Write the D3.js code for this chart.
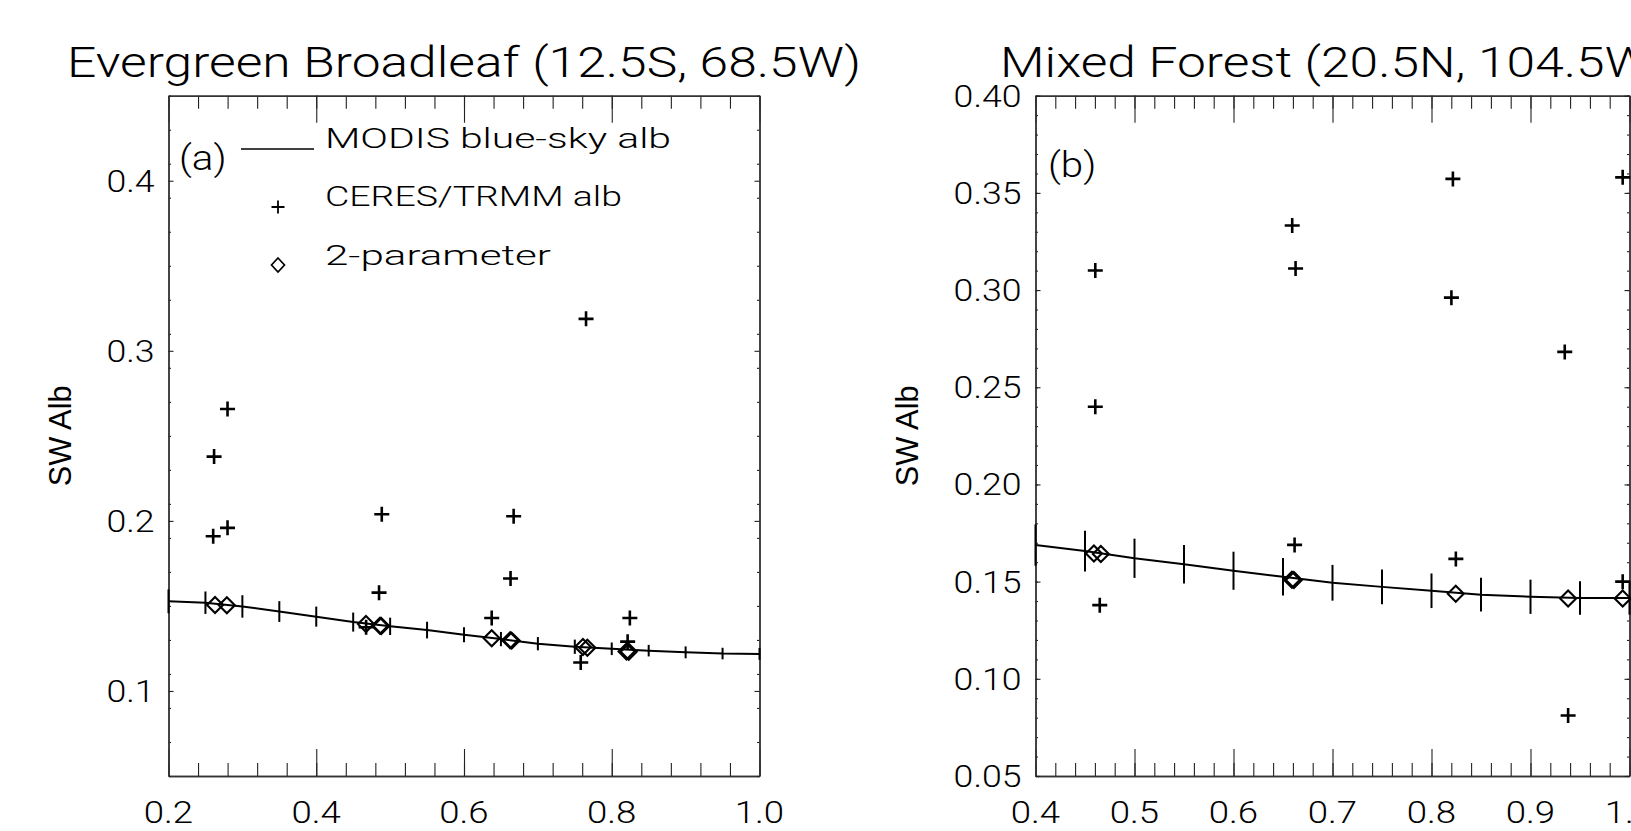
<!DOCTYPE html>
<html>
<head>
<meta charset="utf-8">
<script src="https://cdn.jsdelivr.net/npm/d3@7/dist/d3.min.js"></script>
<style>
body { margin: 0; background: #fff; }
svg { display: block; }
text { font-family: Roboto, "DejaVu Sans", sans-serif; font-weight: 300; fill: #000; }
text.ylab { font-family: "Liberation Sans", Arial, sans-serif; font-weight: 400; }
</style>
</head>
<body>
<svg id="chart" width="1631" height="831"></svg>
<script>
// Panel (a) - Evergreen Broadleaf (12.5S, 68.5W)
var xTicksA = [0.2, 0.4, 0.6, 0.8, 1.0];
var yTicksA = [0.1, 0.2, 0.3, 0.4];
var szaA   = [0.20, 0.25, 0.30, 0.35, 0.40, 0.45, 0.50, 0.55, 0.60, 0.65, 0.70, 0.75, 0.80, 0.85, 0.90, 0.95, 1.00];
var modisA = [0.1527, 0.1519, 0.1497, 0.1467, 0.1437, 0.1405, 0.1380, 0.1358, 0.1330, 0.1305, 0.1278, 0.1260, 0.1248, 0.1237, 0.1227, 0.1220, 0.1218];
var errA   = [0.0070, 0.0066, 0.0066, 0.0061, 0.0059, 0.0056, 0.0051, 0.0049, 0.0044, 0.0042, 0.0039, 0.0042, 0.0037, 0.0034, 0.0035, 0.0034, 0.0035];
var ceresXA = [0.2617, 0.2605, 0.2799, 0.2799, 0.4887, 0.4850, 0.4675, 0.6672, 0.6630, 0.6375, 0.7652, 0.7580, 0.8245, 0.8215];
var ceresYA = [0.2378, 0.1910, 0.2658, 0.1959, 0.2039, 0.1578, 0.1375, 0.2027, 0.1661, 0.1429, 0.3188, 0.1167, 0.1429, 0.1290];
var paramXA = [0.263, 0.279, 0.4673, 0.4863, 0.4880, 0.6375, 0.6625, 0.6645, 0.761, 0.767, 0.820, 0.823];
var paramYA = [0.1506, 0.1504, 0.1394, 0.1384, 0.1382, 0.1310, 0.1298, 0.1296, 0.1258, 0.1254, 0.1232, 0.1230];

// Panel (b) - Mixed Forest (20.5N, 104.5W)
var xTicksB = [0.4, 0.5, 0.6, 0.7, 0.8, 0.9, 1.0];
var yTicksB = [0.05, 0.10, 0.15, 0.20, 0.25, 0.30, 0.35, 0.40];
var szaB   = [0.40, 0.45, 0.50, 0.55, 0.60, 0.65, 0.70, 0.75, 0.80, 0.85, 0.90, 0.95, 1.00];
var modisB = [0.1688, 0.1657, 0.1620, 0.1589, 0.1556, 0.1525, 0.1494, 0.1473, 0.1453, 0.1433, 0.1422, 0.1416, 0.1416];
var errB   = [0.0106, 0.0105, 0.0101, 0.0099, 0.0098, 0.0097, 0.0092, 0.0090, 0.0089, 0.0087, 0.0088, 0.0086, 0.0086];
var ceresXB = [0.4604, 0.4604, 0.4649, 0.6593, 0.6627, 0.6617, 0.8216, 0.8201, 0.8246, 0.9346, 0.9380, 0.9931, 0.9931];
var ceresYB = [0.3101, 0.2400, 0.1379, 0.3332, 0.3111, 0.1689, 0.3572, 0.2961, 0.1617, 0.2682, 0.0811, 0.3580, 0.1500];
var paramXB = [0.459, 0.466, 0.659, 0.661, 0.8245, 0.938, 0.9931];
var paramYB = [0.1645, 0.1642, 0.1510, 0.1508, 0.1438, 0.1413, 0.1413];

var svg = d3.select("#chart");
var TOP = 95.7, BOTTOM = 776;
var plusPath = "M-7.5,0H7.5M0,-7.5V7.5";
var diamondPath = "M0,-8L8,0L0,8L-8,0Z";

// stretch a text horizontally by a factor (the vector font is wider)
function stretch(sel, f) {
	sel.each(function () {
		var w = this.getComputedTextLength();
		d3.select(this).attr("textLength", w * f).attr("lengthAdjust", "spacingAndGlyphs");
	});
}

function tickRow(g, axisFn, scale, vals, size, tr) {
	g.append("g").attr("transform", tr)
		.call(axisFn(scale).tickValues(vals).tickSize(-size).tickSizeOuter(0).tickFormat(""))
		.call(function (a) {
			a.selectAll("line").attr("stroke", "#222").attr("stroke-width", 1.1);
			a.selectAll("path").attr("stroke", "#333").attr("stroke-width", 1.4);
		});
}

function panel(p) {
	var g = svg.append("g");
	var x = d3.scaleLinear().domain(p.xDomain).range([p.left, p.right]);
	var y = d3.scaleLinear().domain(p.yDomain).range([BOTTOM, TOP]);

	// axes: x ticks long, y ticks short, all pointing in
	var xMinor = d3.range(0, Math.round((p.xDomain[1] - p.xDomain[0]) / p.xMinor) + 1).map(function (i) { return p.xDomain[0] + i * p.xMinor; });
	var yMinor = d3.range(0, Math.round((p.yDomain[1] - p.yDomain[0]) / p.yMinor) + 1).map(function (i) { return p.yDomain[0] + i * p.yMinor; });
	tickRow(g, d3.axisBottom, x, xMinor, 13, "translate(0," + BOTTOM + ")");
	tickRow(g, d3.axisBottom, x, p.xTicks, 27, "translate(0," + BOTTOM + ")");
	tickRow(g, d3.axisTop, x, xMinor, 13, "translate(0," + TOP + ")");
	tickRow(g, d3.axisTop, x, p.xTicks, 27, "translate(0," + TOP + ")");
	tickRow(g, d3.axisLeft, y, yMinor, 2.5, "translate(" + p.left + ",0)");
	tickRow(g, d3.axisLeft, y, p.yTicks, 5, "translate(" + p.left + ",0)");
	tickRow(g, d3.axisRight, y, yMinor, 2.5, "translate(" + p.right + ",0)");
	tickRow(g, d3.axisRight, y, p.yTicks, 5, "translate(" + p.right + ",0)");

	// tick labels
	g.selectAll("text.xt").data(p.xTicks).enter().append("text")
		.attr("class", "xt")
		.attr("x", function (d) { return x(d); })
		.attr("y", 823)
		.attr("text-anchor", "middle")
		.style("font-size", "31px")
		.text(d3.format(".1f"))
		.call(stretch, 1.18);
	g.selectAll("text.yt").data(p.yTicks).enter().append("text")
		.attr("class", "yt")
		.attr("x", p.left - 14)
		.attr("y", function (d) { return y(d) + 11; })
		.attr("text-anchor", "end")
		.style("font-size", "31px")
		.text(d3.format(p.yFmt))
		.call(stretch, 1.15);

	// title
	svg.append("text")
		.attr("x", p.titleX)
		.attr("y", 77)
		.style("font-size", "42px")
		.text(p.title)
		.call(stretch, p.titleStretch);

	// y label
	svg.append("text")
		.attr("class", "ylab")
		.attr("transform", "translate(" + p.ylabX + "," + ((TOP + BOTTOM) / 2) + ") rotate(-90)")
		.attr("text-anchor", "middle")
		.style("font-size", "31px")
		.attr("textLength", 101)
		.attr("lengthAdjust", "spacingAndGlyphs")
		.text("SW Alb");

	// panel letter
	svg.append("text")
		.attr("x", p.letterX)
		.attr("y", p.letterY)
		.style("font-size", "35px")
		.text(p.letter)
		.call(stretch, 1.15);

	// MODIS line with bars
	var line = d3.line()
		.x(function (d) { return x(d[0]); })
		.y(function (d) { return y(d[1]); });
	var pts = d3.zip(p.sza, p.modis, p.err);
	g.append("path").datum(pts)
		.attr("d", line)
		.attr("fill", "none")
		.attr("stroke", "#000")
		.attr("stroke-width", 2);
	g.selectAll("line.bar").data(pts).enter().append("line")
		.attr("class", "bar")
		.attr("x1", function (d) { return x(d[0]); })
		.attr("x2", function (d) { return x(d[0]); })
		.attr("y1", function (d) { return y(d[1] - d[2]); })
		.attr("y2", function (d) { return y(d[1] + d[2]); })
		.attr("stroke", "#000")
		.attr("stroke-width", 2);

	// CERES pluses
	g.selectAll("path.plus").data(d3.zip(p.cx, p.cy)).enter().append("path")
		.attr("class", "plus")
		.attr("d", plusPath)
		.attr("transform", function (d) { return "translate(" + x(d[0]) + "," + y(d[1]) + ")"; })
		.attr("stroke", "#000")
		.attr("stroke-width", 2.6);

	// 2-parameter diamonds
	g.selectAll("path.dia").data(d3.zip(p.px, p.py)).enter().append("path")
		.attr("class", "dia")
		.attr("d", diamondPath)
		.attr("transform", function (d) { return "translate(" + x(d[0]) + "," + y(d[1]) + ")"; })
		.attr("fill", "none")
		.attr("stroke", "#000")
		.attr("stroke-width", 2.1);
}

// title (a) spans 67..861; title (b) uses the same stretch
var probe = svg.append("text").style("font-size", "42px").text("Evergreen Broadleaf (12.5S, 68.5W)");
var titleStretch = 794 / probe.node().getComputedTextLength();
probe.remove();

panel({
	xDomain: [0.2, 1.0], yDomain: [0.05, 0.45], left: 168.5, right: 759.5,
	xTicks: xTicksA, yTicks: yTicksA, xMinor: 0.04, yMinor: 0.02, yFmt: ".1f",
	title: "Evergreen Broadleaf (12.5S, 68.5W)", titleX: 67, titleStretch: titleStretch,
	ylabX: 71, letter: "(a)", letterX: 179, letterY: 170,
	sza: szaA, modis: modisA, err: errA, cx: ceresXA, cy: ceresYA, px: paramXA, py: paramYA
});
panel({
	xDomain: [0.4, 1.0], yDomain: [0.05, 0.40], left: 1035.5, right: 1629.5,
	xTicks: xTicksB, yTicks: yTicksB, xMinor: 0.02, yMinor: 0.01, yFmt: ".2f",
	title: "Mixed Forest (20.5N, 104.5W)", titleX: 1000, titleStretch: titleStretch,
	ylabX: 918, letter: "(b)", letterX: 1048, letterY: 177,
	sza: szaB, modis: modisB, err: errB, cx: ceresXB, cy: ceresYB, px: paramXB, py: paramYB
});

// legend in panel (a)
var leg = svg.append("g");
leg.append("line").attr("x1", 241).attr("x2", 314).attr("y1", 149).attr("y2", 149)
	.attr("stroke", "#000").attr("stroke-width", 1.6);
leg.append("path").attr("d", "M-6.5,0H6.5M0,-6.5V6.5").attr("transform", "translate(278,207)")
	.attr("stroke", "#000").attr("stroke-width", 1.8);
leg.append("path").attr("d", "M0,-7L6.5,0L0,7L-6.5,0Z").attr("transform", "translate(278,265)")
	.attr("fill", "none").attr("stroke", "#000").attr("stroke-width", 1.7);
var legText = ["MODIS blue-sky alb", "CERES/TRMM alb", "2-parameter"];
var legY = [148, 206, 265];
var legW = [346, 297, 226];
leg.selectAll("text").data(legText).enter().append("text")
	.attr("x", 325)
	.attr("y", function (d, i) { return legY[i]; })
	.style("font-size", "28px")
	.attr("textLength", function (d, i) { return legW[i]; })
	.attr("lengthAdjust", "spacingAndGlyphs")
	.text(function (d) { return d; });
</script>
</body>
</html>
